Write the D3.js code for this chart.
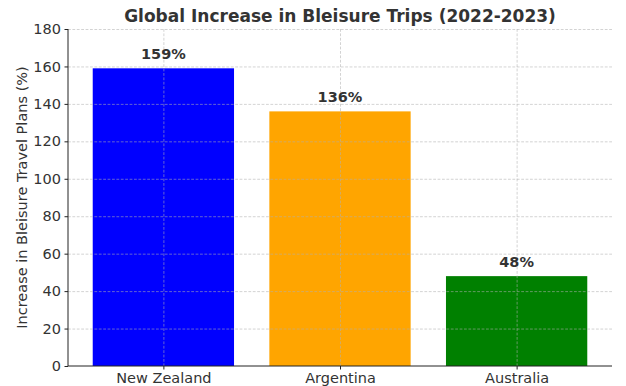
<!DOCTYPE html>
<html><head><meta charset="utf-8">
<script src="https://cdn.jsdelivr.net/npm/d3@7"></script>
<style>body{margin:0;background:#fff;} text{font-family:"DejaVu Sans",sans-serif;}</style>
</head><body>
<svg id="c" width="626" height="386"></svg>
<script>
const categories = ["New Zealand", "Argentina", "Australia"];
const values = [159, 136, 48];
const colors = ["#0000ff", "#ffa500", "#008000"];
const yTicks = [0, 20, 40, 60, 80, 100, 120, 140, 160, 180];
const title = "Global Increase in Bleisure Trips (2022-2023)";
const yLabel = "Increase in Bleisure Travel Plans (%)";

const svg = d3.select("#c");
const L = 68, R = 612, T = 29, B = 366;
const x = d3.scaleLinear().domain([-0.54, 2.54]).range([L, R]);
const y = d3.scaleLinear().domain([0, 180]).range([B, T]);
const bw = 0.8;
const txt = "#333";
const fs = "14.5px";

// bars
svg.append("g").selectAll("rect").data(values).join("rect")
  .attr("x", (d, i) => x(i - bw / 2))
  .attr("width", (d, i) => x(i + bw / 2) - x(i - bw / 2))
  .attr("y", d => y(d))
  .attr("height", d => y(0) - y(d))
  .attr("fill", (d, i) => colors[i]);

// grid (on top)
const grid = svg.append("g").attr("stroke", "#b0b0b0").attr("stroke-opacity", 0.7)
  .attr("stroke-width", 0.8).attr("stroke-dasharray", "2.8,1.6");
grid.selectAll("line.h").data(yTicks.slice(1)).join("line").attr("class", "h")
  .attr("x1", L).attr("x2", R).attr("y1", d => y(d) + 0.5).attr("y2", d => y(d) + 0.5);
grid.selectAll("line.v").data(categories).join("line").attr("class", "v")
  .attr("y1", T).attr("y2", B).attr("x1", (d, i) => x(i) + 0.5).attr("x2", (d, i) => x(i) + 0.5);

// y axis
const yAxis = d3.axisLeft(y).tickValues(yTicks).tickSize(3.5).tickPadding(3.5);
const gy = svg.append("g").attr("transform", `translate(${L},0)`).call(yAxis);
gy.select(".domain").remove();
gy.selectAll("line").attr("stroke", "#222");
gy.selectAll("text").attr("fill", txt).style("font-size", fs).style("font-family", "DejaVu Sans");
svg.append("line").attr("x1", L).attr("x2", L).attr("y1", T).attr("y2", B).attr("stroke", "#222").attr("stroke-width", 1);

// x axis
const xAxis = d3.axisBottom(x).tickValues([0, 1, 2]).tickFormat(i => categories[i]).tickSize(3.5).tickPadding(3);
const gx = svg.append("g").attr("transform", `translate(0,${B})`).call(xAxis);
gx.select(".domain").remove();
gx.selectAll("line").attr("stroke", "#222");
gx.selectAll("text").attr("fill", txt).style("font-size", fs).style("font-family", "DejaVu Sans");
svg.append("line").attr("x1", L).attr("x2", R).attr("y1", B).attr("y2", B).attr("stroke", "#222").attr("stroke-width", 1);

// value labels
svg.append("g").selectAll("text").data(values).join("text")
  .attr("x", (d, i) => x(i))
  .attr("y", d => y(d) - 9)
  .attr("text-anchor", "middle")
  .attr("fill", txt)
  .style("font-size", fs).style("font-weight", "bold")
  .text(d => d + "%");

// title
svg.append("text").attr("x", (L + R) / 2).attr("y", 21.5).attr("text-anchor", "middle")
  .attr("fill", txt).style("font-size", "17px").style("font-weight", "bold").text(title);

// y label
svg.append("text").attr("transform", `translate(27,${(T + B) / 2}) rotate(-90)`)
  .attr("text-anchor", "middle").attr("fill", txt).style("font-size", fs).text(yLabel);
</script>
</body></html>
